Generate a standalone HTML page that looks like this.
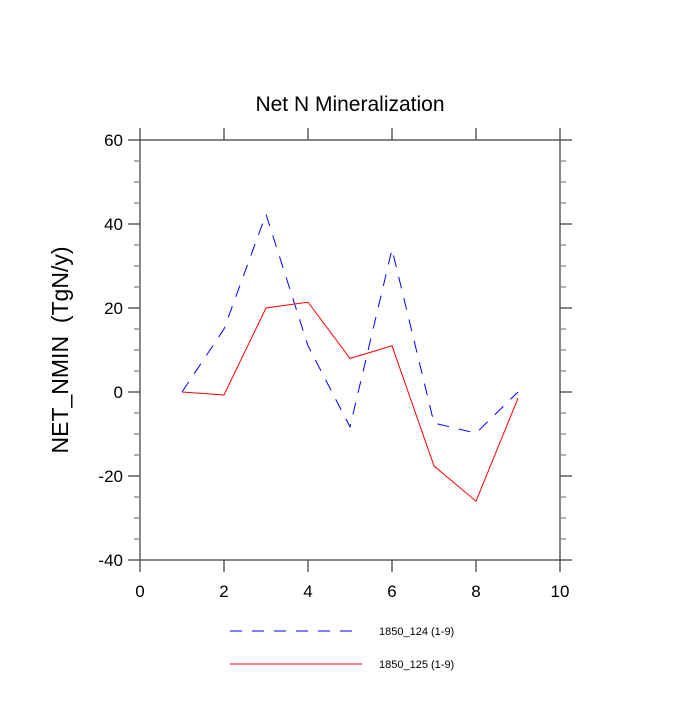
<!DOCTYPE html>
<html><head><meta charset="utf-8"><style>
body{margin:0;background:#fff}
text{font-family:"Liberation Sans",sans-serif;fill:#000;white-space:pre}
</style></head><body>
<svg id="chart" width="700" height="700" xmlns="http://www.w3.org/2000/svg">
<text x="350" y="111" font-size="21" text-anchor="middle">Net N Mineralization</text>
<text transform="translate(68,350) rotate(-90)" font-size="23" text-anchor="middle">NET_NMIN  (TgN/y)</text>
<g id="axes"></g>
<g id="series"></g>
<g>
<line x1="230" y1="631" x2="362" y2="631" stroke="#00f" stroke-width="1" stroke-dasharray="12,10"/>
<text x="379" y="635" font-size="11">1850_124 (1-9)</text>
<line x1="230" y1="664" x2="362" y2="664" stroke="#f00" stroke-width="1"/>
<text x="379" y="668" font-size="11">1850_125 (1-9)</text>
</g>
</svg>
<script>
const xCats=[1,2,3,4,5,6,7,8,9];
const series124=[0,15,42.3,11,-8.3,34,-7.4,-9.8,0];
const series125=[0,-0.7,20,21.4,8,11,-17.6,-26,-1.5];
const xTicks=[0,2,4,6,8,10];
const yTicks=[-40,-20,0,20,40,60];
const L=140,R=560,T=140,B=560,xMin=0,xMax=10,yMin=-40,yMax=60;
const sx=v=>L+(v-xMin)/(xMax-xMin)*(R-L);
const sy=v=>B-(v-yMin)/(yMax-yMin)*(B-T);
const NS="http://www.w3.org/2000/svg";
const axes=document.getElementById('axes');
function mk(tag,attrs,parent){const e=document.createElementNS(NS,tag);for(const k in attrs)e.setAttribute(k,attrs[k]);parent.appendChild(e);return e;}
const frame=mk('rect',{x:L,y:T,width:R-L,height:B-T,fill:'none',stroke:'#444','stroke-width':1.3},axes);


xTicks.forEach(v=>{
  const x=sx(v);
  const t1=mk('line',{x1:x,y1:B,x2:x,y2:B+12,stroke:'#444','stroke-width':1.3},axes);
  
  
  const t2=mk('line',{x1:x,y1:T,x2:x,y2:T-12,stroke:'#444','stroke-width':1.3},axes);
  
  
  const lb=mk('text',{x:x,y:B+37,'font-size':17,'text-anchor':'middle'},axes);
  lb.textContent=v;
  
  
});
for(let v=yMin;v<=yMax;v+=5){
  const y=sy(v);const major=(v%20===0);const len=major?12:6;
  const a=mk('line',{x1:L,y1:y,x2:L-len,y2:y,stroke:major?'#444':'#888','stroke-width':1.3},axes);
  
  
  const b=mk('line',{x1:R,y1:y,x2:R+len,y2:y,stroke:major?'#444':'#888','stroke-width':1.3},axes);
  
  
}
yTicks.forEach(v=>{
  const lb=mk('text',{x:L-17,y:sy(v)+6,'font-size':17,'text-anchor':'end'},axes);
  lb.textContent=v;
  
  
});
const sg=document.getElementById('series');
const p1=mk('polyline',{points:xCats.map((c,i)=>sx(c)+','+sy(series124[i])).join(' '),fill:'none',stroke:'#00f','stroke-width':1,'stroke-dasharray':'12,10'},sg);


const p2=mk('polyline',{points:xCats.map((c,i)=>sx(c)+','+sy(series125[i])).join(' '),fill:'none',stroke:'#f00','stroke-width':1},sg);


</script>
</body></html>
